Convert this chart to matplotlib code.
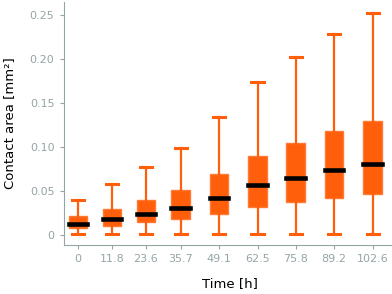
import matplotlib
matplotlib.use("Agg")
import matplotlib.pyplot as plt

times = [0, 11.8, 23.6, 35.7, 49.1, 62.5, 75.8, 89.2, 102.6]
tick_labels = ["0", "11.8", "23.6", "35.7", "49.1", "62.5", "75.8", "89.2", "102.6"]
whislo = [0.001, 0.001, 0.001, 0.001, 0.001, 0.001, 0.001, 0.001, 0.001]
q1 = [0.0072, 0.0095, 0.014, 0.0174, 0.0239, 0.0318, 0.0375, 0.042, 0.0458]
med = [0.0125, 0.0174, 0.0239, 0.0303, 0.0417, 0.056, 0.0644, 0.0731, 0.081]
q3 = [0.0208, 0.0295, 0.0398, 0.0508, 0.069, 0.0898, 0.104, 0.1178, 0.1295]
whishi = [0.0394, 0.058, 0.0773, 0.0985, 0.1345, 0.1735, 0.2023, 0.229, 0.2526]

orange = "#ff5f0a"
gray = "#95a5a6"

stats = [dict(whislo=a, q1=b, med=c, q3=d, whishi=e, fliers=[])
         for a, b, c, d, e in zip(whislo, q1, med, q3, whishi)]

fig = plt.figure(figsize=(3.92, 2.94), dpi=100)
ax = fig.add_axes([0.162, 0.168, 0.85, 0.825])
ax.bxp(stats, positions=times, widths=6.4, patch_artist=True, showfliers=False,
       boxprops=dict(facecolor=orange, edgecolor="#ff7a33", linewidth=1),
       whiskerprops=dict(color=orange, linewidth=1.6),
       capprops=dict(color=orange, linewidth=2.2),
       medianprops=dict(color="black", linewidth=3.3, solid_capstyle="projecting"),
       capwidths=4.2)
ax.set_xticks(times)
ax.set_xticklabels(tick_labels)
ax.set_xlim(-5.1, 111)
ax.set_ylim(-0.0114, 0.265)
ax.set_yticks([0, 0.05, 0.10, 0.15, 0.20, 0.25])
ax.set_yticklabels(["0", "0.05", "0.10", "0.15", "0.20", "0.25"])
for s in ["top", "right"]:
    ax.spines[s].set_visible(False)
for s in ["left", "bottom"]:
    ax.spines[s].set_color(gray)
ax.tick_params(colors=gray, labelsize=8, length=3)
ax.tick_params(labelcolor=gray)
ax.set_xlabel("Time [h]", fontsize=9.5, labelpad=10)
ax.set_ylabel("Contact area [mm²]", fontsize=9.5, labelpad=10)
fig.savefig("out.png", dpi=100)
